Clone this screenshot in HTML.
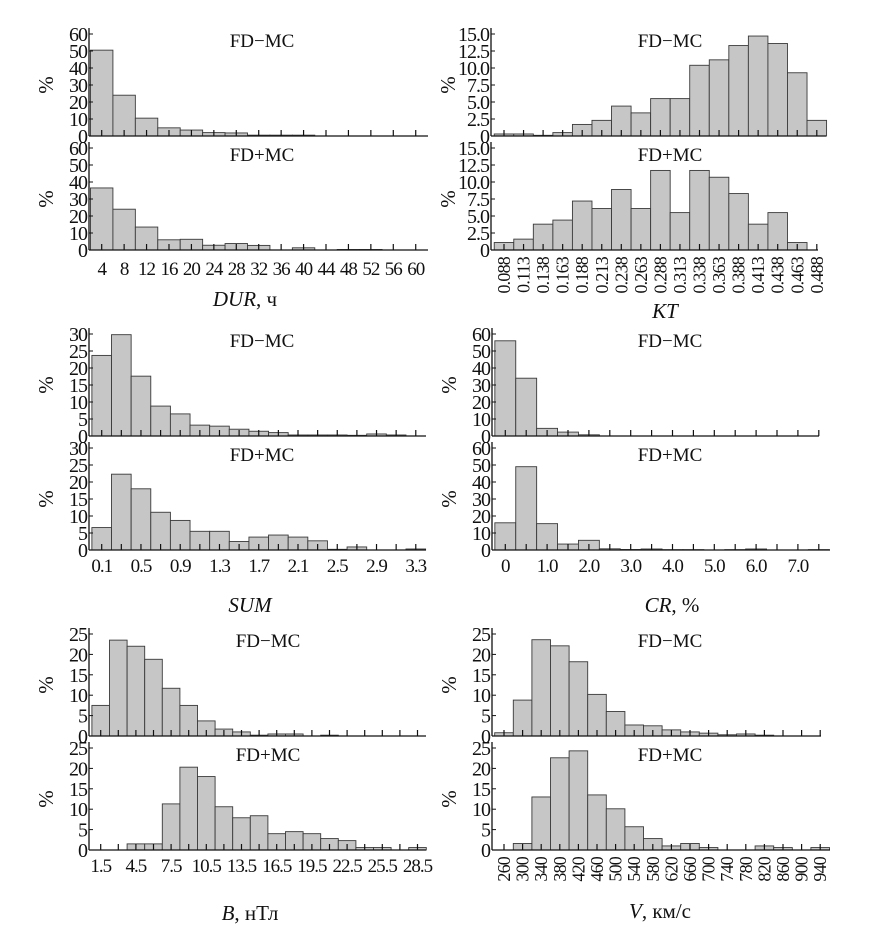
<!DOCTYPE html>
<html><head><meta charset="utf-8"><style>
body{margin:0;background:#fff}
svg{display:block}
svg text{font-family:"Liberation Serif","DejaVu Serif",serif}
</style></head><body>
<svg id="fig" width="877" height="935" viewBox="0 0 877 935" font-family="Liberation Serif, serif"></svg>
<script>
// DUR
const durCats=[4,8,12,16,20,24,28,32,36,40,44,48,52,56,60];
const durMinus=[50.5,24,10.5,4.8,3.5,2,1.8,0.5,0.5,0.5,0,0,0,0,0];
const durPlus=[36.5,24,13.5,6,6.3,2.8,3.8,2.7,0,1.3,0,0.3,0.3,0,0];
const durY=[0,10,20,30,40,50,60];
// KT
const ktCats=["0.088","0.113","0.138","0.163","0.188","0.213","0.238","0.263","0.288","0.313","0.338","0.363","0.388","0.413","0.438","0.463","0.488"];
const ktMinus=[0.3,0.3,0.1,0.5,1.7,2.3,4.4,3.4,5.5,5.5,10.4,11.2,13.3,14.7,13.6,9.3,2.3];
const ktPlus=[1.1,1.6,3.8,4.4,7.2,6.1,8.9,6.1,11.7,5.5,11.7,10.7,8.3,3.8,5.5,1.1,0];
const ktY=["0","2.5","5.0","7.5","10.0","12.5","15.0"];
// SUM
const sumCats=["0.1","0.3","0.5","0.7","0.9","1.1","1.3","1.5","1.7","1.9","2.1","2.3","2.5","2.7","2.9","3.1","3.3"];
const sumMinus=[23.7,29.8,17.6,8.8,6.5,3.2,2.9,2.0,1.4,1.0,0.3,0.3,0.3,0.2,0.6,0.3,0];
const sumPlus=[6.6,22.3,18,11.1,8.7,5.5,5.5,2.5,3.8,4.4,3.8,2.7,0.2,0.9,0,0,0.3];
const sumY=[0,5,10,15,20,25,30];
// CR
const crCats=["0","0.5","1.0","1.5","2.0","2.5","3.0","3.5","4.0","4.5","5.0","5.5","6.0","6.5","7.0","7.5"];
const crMinus=[56,34,4.5,2.3,0.7,0,0,0,0,0,0,0,0,0,0,0];
const crPlus=[16,49,15.5,3.5,5.7,0.7,0.3,0.6,0.2,0.2,0,0.2,0.6,0,0,0.2];
const crY=[0,10,20,30,40,50,60];
// B
const bCats=["1.5","3","4.5","6","7.5","9","10.5","12","13.5","15","16.5","18","19.5","21","22.5","24","25.5","27","28.5"];
const bMinus=[7.5,23.5,22,18.8,11.7,7.5,3.7,1.7,1.0,0.2,0.5,0.5,0,0.2,0,0,0,0,0];
const bPlus=[0,0,1.5,1.5,11.3,20.3,18,10.6,7.9,8.4,4,4.5,4,2.8,2.3,0.6,0.6,0,0.6];
const bY=[0,5,10,15,20,25];
// V
const vCats=["260","300","340","380","420","460","500","540","580","620","660","700","740","780","820","860","900","940"];
const vMinus=[0.8,8.8,23.6,22.1,18.2,10.2,6.0,2.7,2.5,1.5,1.0,0.7,0.3,0.5,0.2,0,0,0];
const vPlus=[0,1.6,13,22.6,24.3,13.5,10.1,5.7,2.8,1.0,1.6,0.6,0,0,1.0,0.6,0,0.6];
const vY=[0,5,10,15,20,25];

const svg=document.getElementById('fig');
const NS='http://www.w3.org/2000/svg';
const FF='Liberation Serif, DejaVu Serif, serif';
function mk(tag,attrs,parent){const e=document.createElementNS(NS,tag);for(const k in attrs)e.setAttribute(k,attrs[k]);if(tag==='text')e.setAttribute('font-family',FF);(parent||svg).appendChild(e);return e;}

function panel(o){
  const g=mk('g',{});
  
  
  const ymax=o.ymax, H=102;
  const ys=v=>o.base-v/ymax*H;
  const xs=i=>o.x0+i*o.step;
  o.vals.forEach((v,i)=>{
    if(v<=0)return;
    const r=mk('rect',{x:xs(i)-o.step/2,y:ys(v),width:o.step,height:o.base-ys(v),fill:'#c6c6c6',stroke:'#3a3a3a','stroke-width':0.9},g);
    
    
  });
  const ax=mk('line',{x1:o.ax,y1:o.base,x2:o.xEnd,y2:o.base,stroke:'#111','stroke-width':1.3},g);
  
  
  const ay=mk('line',{x1:o.ax,y1:o.base,x2:o.ax,y2:o.base-H-6,stroke:'#111','stroke-width':1.3},g);
  
  
  o.cats.forEach((c,i)=>{mk('line',{x1:xs(i),y1:o.base,x2:xs(i),y2:o.base-6,stroke:'#111','stroke-width':1.2},g);});
  o.yt.forEach(t=>{
    const v=parseFloat(t);
    mk('line',{x1:o.ax,y1:ys(v),x2:o.ax+4,y2:ys(v),stroke:'#111','stroke-width':1},g);
    const tx=mk('text',{x:o.ax-2,y:ys(v)+7,'text-anchor':'end','font-size':20,fill:'#111','letter-spacing':'-1'},g);
    tx.textContent=t;
    
    
  });
  const pc=mk('text',{x:0,y:0,transform:`translate(${o.ax-36},${o.base-51}) rotate(-90)`,'text-anchor':'middle','font-size':21,fill:'#111'},g);
  pc.textContent='%';
  
  
  const ti=mk('text',{x:o.tx,y:o.base-89,'text-anchor':'middle','font-size':19,fill:'#111'},g);
  ti.textContent=o.title;
  
  
  if(o.xl){
    o.cats.forEach((c,i)=>{
      if(i%o.xl.every)return;
      let t;
      if(o.xl.rot){t=mk('text',{x:0,y:0,transform:`translate(${xs(i)+6},${o.base+7}) rotate(-90)`,'text-anchor':'end','font-size':18,fill:'#111','letter-spacing':'-0.8'},g);}
      else{t=mk('text',{x:xs(i),y:o.xl.y,'text-anchor':'middle','font-size':19,fill:'#111','letter-spacing':'-1'},g);}
      t.textContent=c;
      
      
    });
  }
}
function title(x,y,html,name){const t=mk('text',{x:x,y:y,'text-anchor':'middle','font-size':21,fill:'#111'});t.innerHTML=html;
  
  }

panel({name:'dur-fd-minus-mc',cats:durCats,vals:durMinus,yt:durY.map(String),ymax:60,ax:89,x0:101.7,step:22.43,base:136,xEnd:428,tx:262,title:'FD\u2212MC'});
panel({name:'dur-fd-plus-mc',cats:durCats,vals:durPlus,yt:durY.map(String),ymax:60,ax:89,x0:101.7,step:22.43,base:250,xEnd:428,tx:262,title:'FD+MC',xl:{every:1,y:275}});
title(245,306,'<tspan font-style="italic">DUR</tspan>, ч','dur-axis-title');
panel({name:'kt-fd-minus-mc',cats:ktCats,vals:ktMinus,yt:ktY,ymax:15,ax:491,x0:504,step:19.55,base:136,xEnd:826,tx:670,title:'FD\u2212MC'});
panel({name:'kt-fd-plus-mc',cats:ktCats,vals:ktPlus,yt:ktY,ymax:15,ax:491,x0:504,step:19.55,base:250,xEnd:818,tx:670,title:'FD+MC',xl:{every:1,rot:true}});
title(665,318,'<tspan font-style="italic">KT</tspan>','kt-axis-title');
panel({name:'sum-fd-minus-mc',cats:sumCats,vals:sumMinus,yt:sumY.map(String),ymax:30,ax:89,x0:101.7,step:19.63,base:436,xEnd:426,tx:262,title:'FD\u2212MC'});
panel({name:'sum-fd-plus-mc',cats:sumCats,vals:sumPlus,yt:sumY.map(String),ymax:30,ax:89,x0:101.7,step:19.63,base:550,xEnd:426,tx:262,title:'FD+MC',xl:{every:2,y:572}});
title(250,612,'<tspan font-style="italic">SUM</tspan>','sum-axis-title');
panel({name:'cr-fd-minus-mc',cats:crCats,vals:crMinus,yt:crY.map(String),ymax:60,ax:492,x0:505.3,step:20.9,base:436,xEnd:819,tx:670,title:'FD\u2212MC'});
panel({name:'cr-fd-plus-mc',cats:crCats,vals:crPlus,yt:crY.map(String),ymax:60,ax:492,x0:505.3,step:20.9,base:550,xEnd:830,tx:670,title:'FD+MC',xl:{every:2,y:572}});
title(672,612,'<tspan font-style="italic">CR</tspan>, %','cr-axis-title');
panel({name:'b-fd-minus-mc',cats:bCats,vals:bMinus,yt:bY.map(String),ymax:25,ax:89,x0:100.7,step:17.6,base:736,xEnd:426,tx:268,title:'FD\u2212MC'});
panel({name:'b-fd-plus-mc',cats:bCats,vals:bPlus,yt:bY.map(String),ymax:25,ax:89,x0:100.7,step:17.6,base:850,xEnd:426,tx:268,title:'FD+MC',xl:{every:2,y:872}});
title(250,920,'<tspan font-style="italic">B</tspan>, нТл','b-axis-title');
panel({name:'v-fd-minus-mc',cats:vCats,vals:vMinus,yt:vY.map(String),ymax:25,ax:492,x0:504,step:18.6,base:736,xEnd:821,tx:670,title:'FD\u2212MC'});
panel({name:'v-fd-plus-mc',cats:vCats,vals:vPlus,yt:vY.map(String),ymax:25,ax:492,x0:504,step:18.6,base:850,xEnd:830,tx:670,title:'FD+MC',xl:{every:1,rot:true}});
title(660,918,'<tspan font-style="italic">V</tspan>, км/с','v-axis-title');
</script>
</body></html>
